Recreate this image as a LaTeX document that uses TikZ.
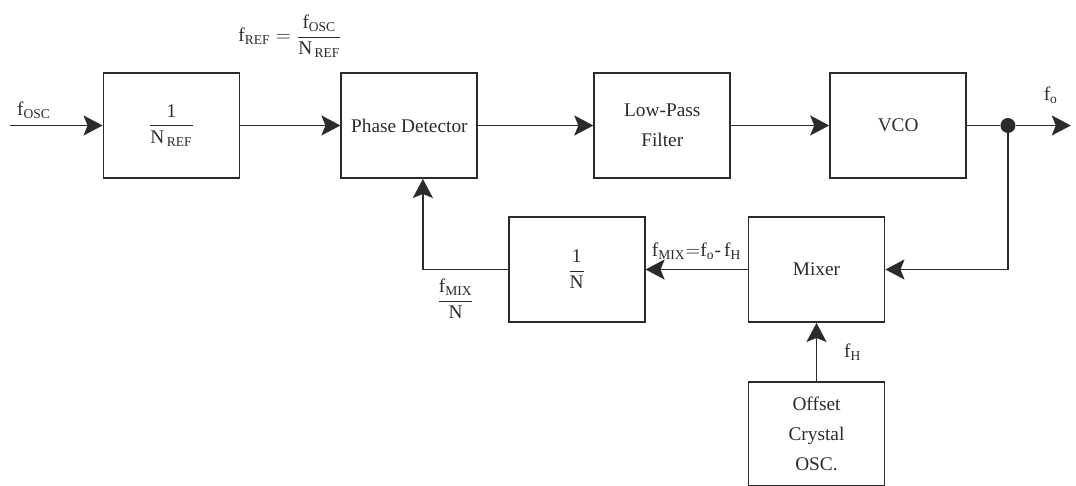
\documentclass[tikz,border=0pt]{standalone}
\usepackage{amsmath}
\usepackage{fontspec}
\setmainfont{Liberation Serif}
\usepackage{tikz}
\usetikzlibrary{arrows.meta,positioning}
\definecolor{xink}{HTML}{2B2B2B}
\newcommand{\fsub}[1]{\mathrm{f}_{\mathrm{#1}}}

\begin{document}
\begin{tikzpicture}[
    x=0.02cm, y=-0.02cm,
    >={Stealth[length=0.38cm, width=0.4cm, inset=0.08cm]},
    block/.style={rectangle, draw=xink, line width=1.1pt, minimum width=2.72cm, minimum height=2.1cm, font=\fontsize{11}{17}\selectfont, text=xink, align=center},
    pipe/.style={->, line width=1.1pt, color=xink},
    wire/.style={line width=1.1pt, color=xink},
    junction/.style={circle, fill=xink, inner sep=0pt, minimum size=0.3cm},
    freq/.style={font=\fontsize{11}{13}\selectfont, text=xink, inner sep=1pt},
]
\useasboundingbox (0,0) rectangle (1076,486);

% --- Forward path ---
\node[block] (nref) at (171.5,125.5) {$\dfrac{\mathrm{1}}{\mathrm{N}_{\,\mathrm{REF}}}$};
\node[block, right=2cm of nref] (pd) {Phase Detector};
\node[block, right=2.3cm of pd] (lpf) {Low-Pass\\Filter};
\node[block, right=1.96cm of lpf] (vco) {VCO};
\node[junction, right=0.66cm of vco] (junc) {};

% --- Feedback path ---
\node[block] (mixer) at (816.5,269.5) {Mixer};
\node[block, left=2.04cm of mixer] (ndiv) {$\dfrac{\mathrm{1}}{\mathrm{N}}$};
\node[block, below=1.16cm of mixer, minimum height=2.08cm] (osc) {Offset\\Crystal\\OSC.};

% --- Free ends ---
\coordinate (in) at (10,125.5);
\coordinate[right=1.1cm of junc] (out);

% --- Arrows: forward ---
\draw[pipe] (in) -- (nref);
\draw[pipe] (nref) -- node[above=1.3cm, freq] {$\fsub{REF} = \dfrac{\fsub{OSC}}{\mathrm{N}_{\,\mathrm{REF}}}$} (pd);
\draw[pipe] (pd) -- (lpf);
\draw[pipe] (lpf) -- (vco);
\draw[wire] (vco) -- (junc);
\draw[pipe] (junc) -- (out);

% --- Arrows: feedback ---
\draw[pipe] (junc) |- (mixer);
\draw[pipe] (mixer) -- node[above=0.15cm, freq] {$\fsub{MIX}{=}\fsub{o}\text{-}\,\fsub{H}$} (ndiv);
\draw[pipe] (ndiv.west) -| ([xshift=0.27cm]pd.south);
\draw[pipe] (osc) -- node[right=0.5cm, freq] {$\fsub{H}$} (mixer);

% --- Labels ---
\node[freq, above right=0.1cm and 0.1cm of in] (lblosc) {$\fsub{OSC}$};
\node[freq, above=0.4cm of out, xshift=-0.4cm] (lblfo) {$\fsub{o}$};
\node[freq, below left=0.15cm and 0.62cm of ndiv.west] (lblmixn) {$\dfrac{\fsub{MIX}}{\mathrm{N}}$};

\end{tikzpicture}
\end{document}
